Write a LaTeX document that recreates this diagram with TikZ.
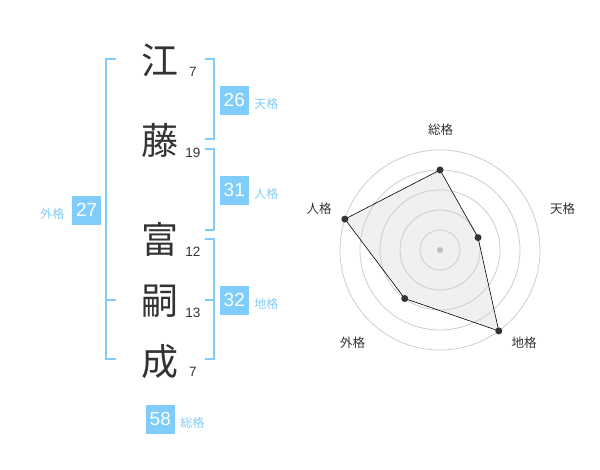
\documentclass[tikz,border=0pt]{standalone}
\usepackage{fontspec}
\setmainfont{Liberation Sans}
\newfontfamily\jpfont{Noto Sans CJK JP}
\usepackage{tikz}
\usetikzlibrary{positioning}

\definecolor{kakublue}{RGB}{128,204,250}
\definecolor{inkgray}{RGB}{51,51,51}
\definecolor{ringgray}{RGB}{205,205,205}

\begin{document}
\begin{tikzpicture}[x=1pt, y=-1pt,
    kanji/.style={inner sep=0pt, text=inkgray, font=\jpfont\fontsize{37}{37}\selectfont},
    strokes/.style={inner sep=0pt, text=inkgray, font=\fontsize{13.5}{13.5}\selectfont},
    kakubox/.style={fill=kakublue, text=white, minimum size=28.7pt, inner sep=0pt,
        font=\fontsize{19}{19}\selectfont},
    kakulabel/.style={inner sep=0pt, text=kakublue, font=\jpfont\fontsize{12}{12}\selectfont},
    radarlabel/.style={inner sep=0pt, text=inkgray, font=\jpfont\fontsize{12.5}{12.5}\selectfont},
    bracket/.style={draw=kakublue, line width=2pt}]
    \useasboundingbox (0,0) rectangle (600,470);

    % Name characters and stroke counts
    \node[kanji] (k1) at (160,60) {江};
    \node[kanji] (k2) at (160,140.5) {藤};
    \node[kanji] (k3) at (160,239.5) {富};
    \node[kanji] (k4) at (160,301.5) {嗣};
    \node[kanji] (k5) at (160,361.5) {成};
    \node[strokes] (s1) at (193,72) {7};
    \node[strokes] (s2) at (193,153) {19};
    \node[strokes] (s3) at (193,252) {12};
    \node[strokes] (s4) at (193,312.5) {13};
    \node[strokes] (s5) at (193,372) {7};

    % Brackets
    \draw[bracket] (115.5,59.3) -- (105.5,59.3) -- (105.5,359.3) -- (115.5,359.3);
    \draw[bracket] (105.5,300) -- (115.5,300);
    \foreach \top/\bot in {59.3/139.3, 149.3/230, 239.3/359.3} {
        \draw[bracket] (205,\top) -- (214.3,\top) -- (214.3,\bot) -- (205,\bot);
    }
    \draw[bracket] (205,300) -- (214.3,300);

    % Boxes with their labels
    \node[kakubox] (ten) at (234.3,100.3) {26};
    \node[kakubox] (jin) at (234.3,190.3) {31};
    \node[kakubox] (chi) at (234.3,300.3) {32};
    \node[kakubox] (gai) at (86.7,210.3) {27};
    \node[kakubox] (sou) at (160.3,419.2) {58};
    \node[kakulabel, right=5.3pt of ten, yshift=-3.5pt] (tenlabel) {天格};
    \node[kakulabel, right=5.3pt of jin, yshift=-3.5pt] (jinlabel) {人格};
    \node[kakulabel, right=5.3pt of chi, yshift=-3.5pt] (chilabel) {地格};
    \node[kakulabel, left=7.7pt of gai, yshift=-3.5pt] (gailabel) {外格};
    \node[kakulabel, right=5.3pt of sou, yshift=-3.5pt] (soulabel) {総格};

    % Radar chart
    \begin{scope}[shift={(440,250)}, y=1pt]
        \coordinate (rsou) at (90:80);
        \coordinate (rten) at (18:40);
        \coordinate (rchi) at (-54:100);
        \coordinate (rgai) at (-126:60);
        \coordinate (rjin) at (162:100);
        \fill[gray!12] (rsou) -- (rten) -- (rchi) -- (rgai) -- (rjin) -- cycle;
        \foreach \r in {20,40,...,100} {
            \draw[ringgray, line width=0.8pt] (0,0) circle (\r);
        }
        \fill[gray!50] (0,0) circle (3);
        \draw[black, line width=0.6pt] (rsou) -- (rten) -- (rchi) -- (rgai) -- (rjin) -- cycle;
        \foreach \p in {rsou,rten,rchi,rgai,rjin} {
            \fill[inkgray] (\p) circle (3.5);
        }
        \node[radarlabel] (lsou) at (0.5,120) {総格};
        \node[radarlabel] (lten) at (122.5,41.2) {天格};
        \node[radarlabel] (ljin) at (-121,41.2) {人格};
        \node[radarlabel] (lgai) at (-87.5,-92.5) {外格};
        \node[radarlabel] (lchi) at (84,-92.5) {地格};
    \end{scope}
\end{tikzpicture}
\end{document}
